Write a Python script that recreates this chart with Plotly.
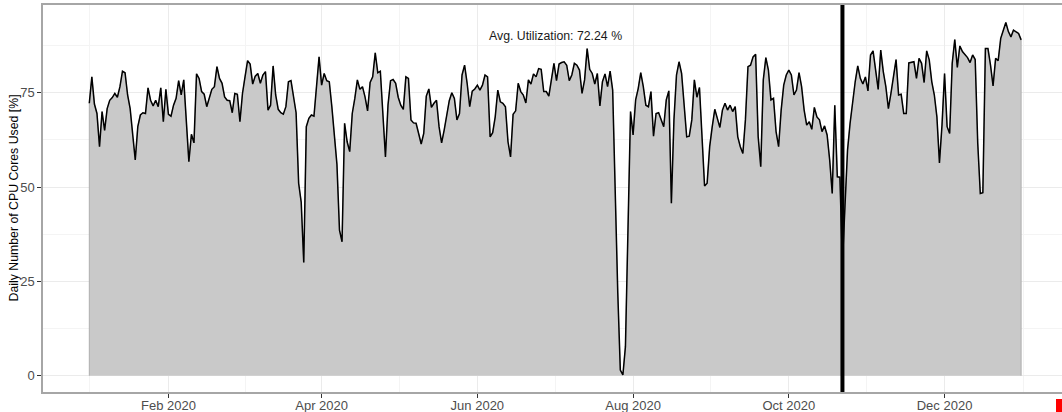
import pandas as pd
import plotly.graph_objects as go

# Daily CPU-core utilisation [%] for 2020, one list per month
jan = [72.2, 79.2, 72, 69.5, 60.7, 70, 65, 70.8, 73, 73.7, 74.8, 73.8, 76.6, 80.7, 80.3, 74.4,
       70.8, 63.3, 57.2, 66, 69.1, 69.7, 69.5, 76.3, 73, 71.5, 73, 71.3, 76.3, 67.3, 75.9]
feb = [69.3, 68.8, 71.7, 73.5, 78.2, 74.4, 78.4, 67.8, 56.7, 64, 61.7, 80, 78.8, 75.3, 74.6,
       71.3, 73.5, 75.9, 76.6, 81.9, 78.8, 77.5, 73.9, 73, 72.9, 69.7, 74.8, 74.6, 67.3]
mar = [74.8, 79.2, 83.5, 82.6, 77.3, 79.4, 80.1, 77.5, 79.7, 80.6, 70.4, 71.7, 82.1, 74.4, 70.6,
       69.7, 69.3, 71.3, 77.9, 78.2, 73.9, 69.7, 51, 46, 30, 66, 68.2, 69.1, 68.8, 77, 84.5]
apr = [77, 80.1, 78.2, 77.9, 71.3, 64.2, 56, 38.6, 35.5, 66.9, 62, 59.4, 69.5, 73.5, 78.4,
       75.9, 76.6, 73.9, 70.2, 77.7, 79.2, 85.6, 80.3, 80.7, 68.6, 58, 71.7, 78.2, 78.5, 77.5]
may = [73.8, 71.7, 70.6, 79.2, 78.8, 67.8, 67, 66.9, 64.2, 61.4, 64.2, 74.1, 76, 71.1, 72.2,
       73, 66, 61.7, 65.1, 68.6, 72.9, 75, 73.5, 67.8, 69.5, 79.7, 82.3, 77.5, 71.3, 75.4, 76]
jun = [77, 75.7, 77, 79.7, 79.2, 63.3, 64.4, 68.6, 75.7, 72.6, 72.2, 71.3, 62, 58, 69.3,
       70.2, 77.5, 75.3, 74.4, 72.3, 78.4, 77.3, 80, 79.2, 81.4, 81.2, 75.3, 75.3, 74.1, 78.8]
jul = [82.8, 78.2, 82.6, 83, 83.2, 82.3, 78.2, 79.7, 82.8, 82.3, 81, 74.8, 78.4, 86.7, 81.2,
       80.1, 77.3, 80.1, 71.5, 77.9, 80, 76.6, 80.7, 75.7, 45, 22, 1.5, 0.2, 7.7, 42, 70]
aug = [63.8, 73.1, 76.1, 80.3, 76.6, 71.7, 71.3, 75.3, 63.5, 69.5, 69.7, 67.8, 66, 73.1, 75.5,
       45.7, 67.8, 79.7, 83.2, 80.1, 70.4, 63.3, 63.5, 67.8, 78.4, 73.8, 76.4, 63.3, 50.3, 51, 60.7]
sep = [66, 70.6, 68.2, 65.8, 70.4, 72.2, 70.4, 71.7, 70, 71.3, 63.3, 60.7, 58.9, 67.8, 81.9,
       82.3, 84.5, 85.2, 63.3, 55.4, 78.4, 84.3, 81, 73.1, 73.5, 64.7, 60.7, 70.4, 77, 79.7]
oct = [81, 79.7, 74.4, 75.7, 80.3, 76.6, 70.4, 66.4, 67.3, 65.3, 71.1, 68.6, 67.8, 64.7, 66.2,
       63.8, 57.2, 48.3, 71.7, 52.7, 52.6, 30, 45, 59.8, 66.9, 73.1, 77.9, 82.1, 78.8, 77.3, 79.2]
nov = [75.5, 85, 86.1, 81, 75.9, 86.3, 80.6, 76.6, 70.8, 74.8, 78.8, 83.8, 74.4, 74.6, 69.5,
       69.5, 82.9, 83, 83.2, 78.8, 84.1, 82.8, 77.7, 86.1, 83.7, 77.9, 74.4, 68.6, 56.4, 66.4]
dec = [80.1, 66, 64.2, 82.8, 89.1, 81.7, 87.4, 85.9, 85.2, 84.3, 83, 85, 83.8, 61.6, 48.3,
       48.5, 86.7, 86.7, 82.3, 76.8, 84.1, 83.5, 89.4, 91.6, 93.6, 91.2, 89.8, 91.6, 91.2, 90.7, 89]

months = [jan, feb, mar, apr, may, jun, jul, aug, sep, oct, nov, dec]
utilization = [v for m in months for v in m]
dates = pd.date_range("2020-01-01", periods=len(utilization), freq="D")

avg_label = "Avg. Utilization: 72.24 %"
avg_label_date = "2020-07-01 14:00"
avg_label_y = 90
marker_date = "2020-10-22"
y_title = "Daily Number of CPU Cores Used [%]"

major_x = pd.to_datetime(["2020-02-01", "2020-04-01", "2020-06-01",
                          "2020-08-01", "2020-10-01", "2020-12-01"])
major_x_text = ["Feb 2020", "Apr 2020", "Jun 2020", "Aug 2020", "Oct 2020", "Dec 2020"]
edge_x = pd.to_datetime(["2019-12-01"] + list(major_x.strftime("%Y-%m-%d")) + ["2021-02-01"])
minor_x = [edge_x[i] + (edge_x[i + 1] - edge_x[i]) / 2 for i in range(len(edge_x) - 1)]

major_y = [0, 25, 50, 75]
minor_y = [12.5, 37.5, 62.5, 87.5]

# panel geometry in pixels
M_LEFT, M_TOP, M_BOTTOM = 43, 5, 20
PANEL_W, PANEL_H = 1062 - M_LEFT, 412 - M_TOP - M_BOTTOM

# x window: ~18 days of padding on the left, panel runs past the right edge
px_per_day = 2.553
x_start = dates[0] - pd.Timedelta(days=(89.3 - M_LEFT) / px_per_day)
x_end = x_start + pd.Timedelta(days=PANEL_W / px_per_day)

fig = go.Figure()

# shaded area under the series
poly_x = [dates[0]] + list(dates) + [dates[-1]]
poly_y = [0] + utilization + [0]
fig.add_trace(go.Scatter(x=poly_x, y=poly_y, mode="lines", fill="toself",
                         fillcolor="#C9C9C9", line=dict(color="#A3A3A3", width=0.8),
                         hoverinfo="skip", showlegend=False))
# daily line
fig.add_trace(go.Scatter(x=dates, y=utilization, mode="lines",
                         line=dict(color="black", width=1.5), showlegend=False))

fig.add_shape(type="line", xref="x", yref="paper", x0=marker_date, x1=marker_date,
              y0=0, y1=1, line=dict(color="black", width=4))

font_family = "Liberation Sans, Arial, sans-serif"

fig.add_annotation(x=avg_label_date, y=avg_label_y, text=avg_label, showarrow=False,
                   font=dict(family=font_family, size=12.3, color="#1A1A1A"))

# y-axis title placed as rotated text, centred on the panel
fig.add_annotation(xref="paper", yref="paper", x=(13 - M_LEFT) / PANEL_W, y=0.5,
                   text=y_title, textangle=-90, showarrow=False,
                   xanchor="center", yanchor="middle",
                   font=dict(family=font_family, size=12.3, color="black"))

# small red marker at the lower right corner
fig.add_shape(type="rect", xref="paper", yref="paper",
              x0=(1056 - M_LEFT) / PANEL_W, x1=(1064 - M_LEFT) / PANEL_W,
              y0=-(413 - (412 - M_BOTTOM)) / PANEL_H, y1=-(399 - (412 - M_BOTTOM)) / PANEL_H,
              fillcolor="#FF0000", line=dict(width=0))

axis_font = dict(family=font_family, size=13, color="#4D4D4D")

fig.update_xaxes(type="date", range=[x_start, x_end], automargin=False,
                 tickvals=major_x, ticktext=major_x_text, tickfont=axis_font,
                 ticks="outside", ticklen=4, tickcolor="#333333", tickwidth=1,
                 ticklabelstandoff=-3,
                 showgrid=True, gridcolor="#EBEBEB", gridwidth=1.1,
                 minor=dict(tickvals=minor_x, showgrid=True, gridcolor="#F4F4F4",
                            gridwidth=0.6, ticks=""),
                 showline=True, linecolor="#A6A6A6", linewidth=1.5, mirror=True,
                 zeroline=False)
fig.update_yaxes(range=[-4.32, 98.25], automargin=False, tickvals=major_y, tickfont=axis_font,
                 ticks="outside", ticklen=4, tickcolor="#333333", tickwidth=1,
                 showgrid=True, gridcolor="#EBEBEB", gridwidth=1.1,
                 minor=dict(tickvals=minor_y, showgrid=True, gridcolor="#F4F4F4",
                            gridwidth=0.6, ticks=""),
                 showline=True, linecolor="#A6A6A6", linewidth=1.5, mirror=False,
                 zeroline=False)

fig.update_layout(width=1062, height=412,
                  margin=dict(l=M_LEFT, r=0, t=M_TOP, b=M_BOTTOM, autoexpand=False),
                  plot_bgcolor="white", paper_bgcolor="white")

fig.write_html("out.html")
